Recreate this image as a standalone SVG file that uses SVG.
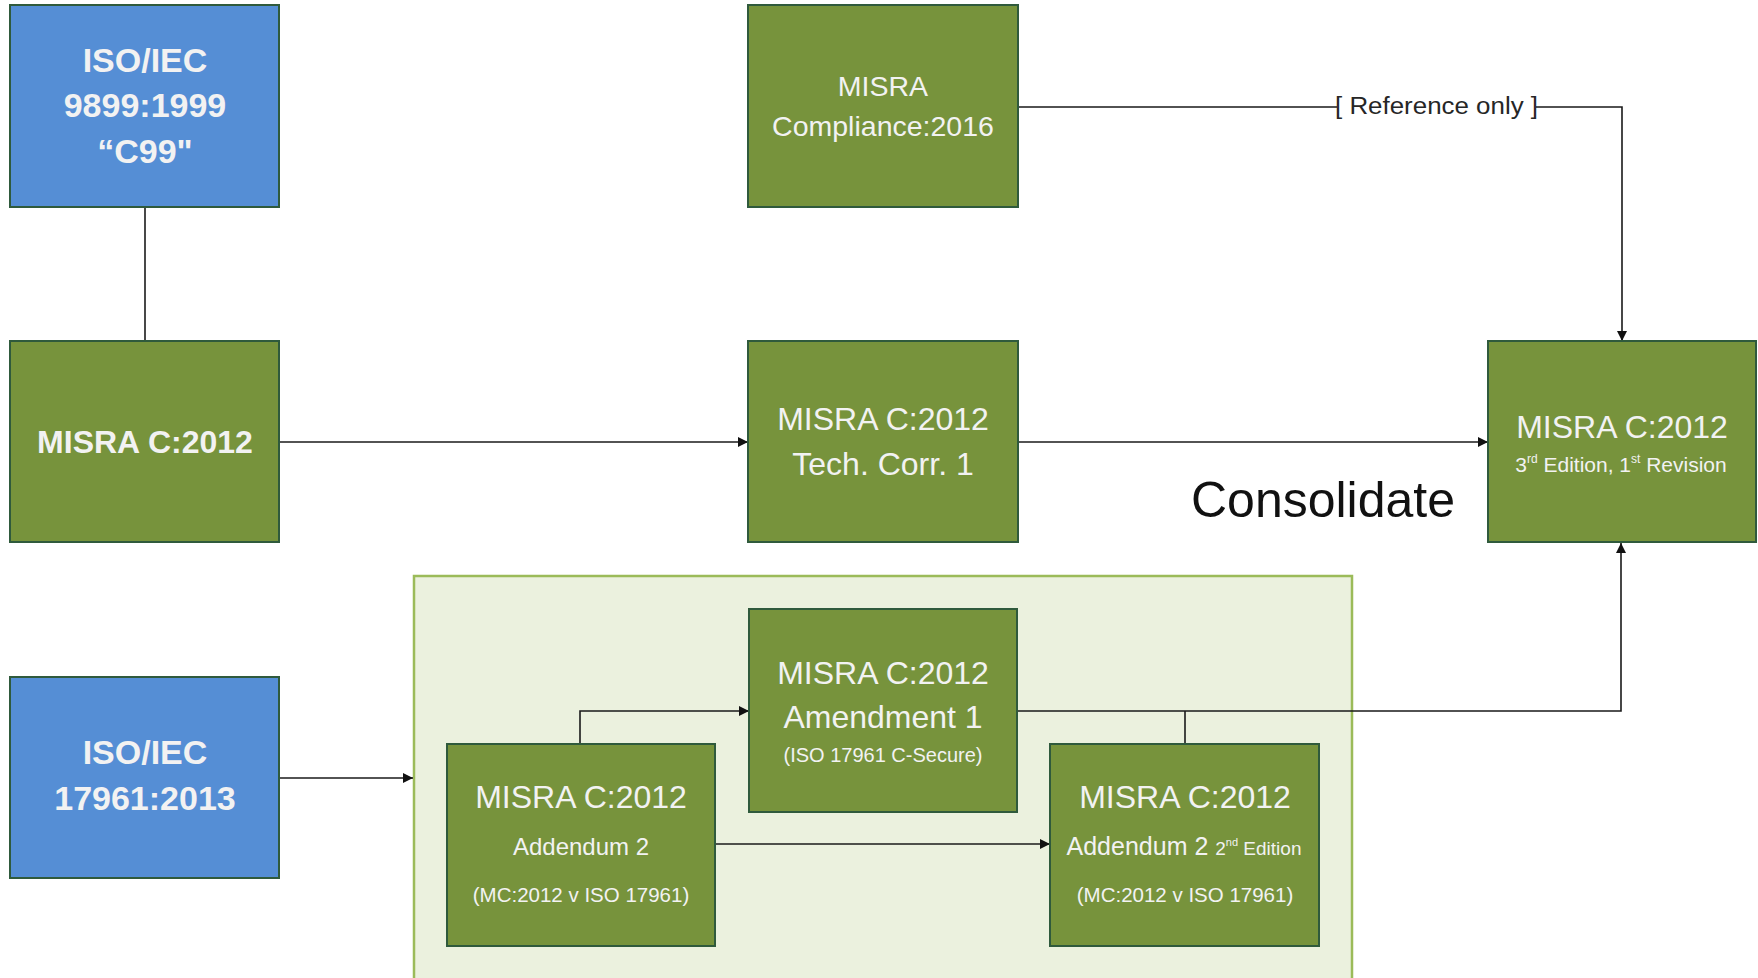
<svg xmlns="http://www.w3.org/2000/svg" width="1758" height="978" viewBox="0 0 1758 978">
<defs>
<style>
.box{stroke:#2f5a3c;stroke-width:2}
.blue{fill:#558ed5}
.green{fill:#77933c}
.t{font-family:"Liberation Sans",Arial,sans-serif;fill:#f2f2f2;text-anchor:middle}
.b{font-weight:bold}
.ln{fill:none;stroke:#1a1a1a;stroke-width:1.6}
</style>
<marker id="ah" viewBox="0 0 10 10" refX="10" refY="5" markerWidth="10" markerHeight="10" markerUnits="userSpaceOnUse" orient="auto">
<path d="M0,0 L10,5 L0,10 z" fill="#111"/>
</marker>
</defs>
<rect width="1758" height="978" fill="#ffffff"/>

<g id="container">
<rect x="414" y="576" width="938" height="410" fill="#ebf1de" stroke="#9bbb59" stroke-width="2.5"/>
</g>

<g id="connectors">
<path class="ln" d="M145,207 L145,341"/>
<path class="ln" d="M279,442 L748,442" marker-end="url(#ah)"/>
<path class="ln" d="M1018,442 L1488,442" marker-end="url(#ah)"/>
<path class="ln" d="M1018,107 L1622,107 L1622,341" marker-end="url(#ah)"/>
<path class="ln" d="M279,778 L413,778" marker-end="url(#ah)"/>
<path class="ln" d="M580,744 L580,711 L749,711" marker-end="url(#ah)"/>
<path class="ln" d="M715,844 L1050,844" marker-end="url(#ah)"/>
<path class="ln" d="M1017,711 L1621,711 L1621,543" marker-end="url(#ah)"/>
<path class="ln" d="M1185,711 L1185,744"/>
<rect x="1337" y="92" width="199" height="30" fill="#ffffff"/>
<text x="1335" y="114" font-family="'Liberation Sans',Arial,sans-serif" font-size="23" fill="#262626" textLength="203" lengthAdjust="spacingAndGlyphs">[ Reference only ]</text>
</g>

<g id="c99">
<rect class="box blue" x="10" y="5" width="269" height="202"/>
<text class="t b" font-size="34" x="145" y="72">ISO/IEC</text>
<text class="t b" font-size="34" x="145" y="117">9899:1999</text>
<text class="t b" font-size="34" x="145" y="163">“C99"</text>
</g>

<g id="misra2012">
<rect class="box green" x="10" y="341" width="269" height="201"/>
<text class="t b" font-size="32" x="145" y="453">MISRA C:2012</text>
</g>

<g id="compliance">
<rect class="box green" x="748" y="5" width="270" height="202"/>
<text class="t" font-size="28.5" x="883" y="96">MISRA</text>
<text class="t" font-size="28.5" x="883" y="136">Compliance:2016</text>
</g>

<g id="techcorr">
<rect class="box green" x="748" y="341" width="270" height="201"/>
<text class="t" font-size="32" x="883" y="430">MISRA C:2012</text>
<text class="t" font-size="32" x="883" y="475">Tech. Corr. 1</text>
</g>

<g id="final">
<rect class="box green" x="1488" y="341" width="268" height="201"/>
<text class="t" font-size="32" x="1622" y="438">MISRA C:2012</text>
<text class="t" font-size="21" x="1621" y="472">3<tspan font-size="12" dy="-9">rd</tspan><tspan dy="9"> Edition, 1</tspan><tspan font-size="12" dy="-9">st</tspan><tspan dy="9"> Revision</tspan></text>
</g>

<g id="consolidate">
<text x="1323" y="517" font-family="'Liberation Sans',Arial,sans-serif" font-size="50" fill="#111" text-anchor="middle">Consolidate</text>
</g>

<g id="iso17961">
<rect class="box blue" x="10" y="677" width="269" height="201"/>
<text class="t b" font-size="34" x="145" y="764">ISO/IEC</text>
<text class="t b" font-size="34" x="145" y="810">17961:2013</text>
</g>

<g id="amendment1">
<rect class="box green" x="749" y="609" width="268" height="203"/>
<text class="t" font-size="32" x="883" y="684">MISRA C:2012</text>
<text class="t" font-size="32" x="883" y="728">Amendment 1</text>
<text class="t" font-size="20" x="883" y="762">(ISO 17961 C-Secure)</text>
</g>

<g id="addendum2">
<rect class="box green" x="447" y="744" width="268" height="202"/>
<text class="t" font-size="32" x="581" y="808">MISRA C:2012</text>
<text class="t" font-size="24" x="581" y="855">Addendum 2</text>
<text class="t" font-size="20.5" x="581" y="902">(MC:2012 v ISO 17961)</text>
</g>

<g id="addendum2ed2">
<rect class="box green" x="1050" y="744" width="269" height="202"/>
<text class="t" font-size="32" x="1185" y="808">MISRA C:2012</text>
<text class="t" font-size="25" x="1184" y="855">Addendum 2 <tspan font-size="19">2</tspan><tspan font-size="11" dy="-9">nd</tspan><tspan font-size="19" dy="9"> Edition</tspan></text>
<text class="t" font-size="20.5" x="1185" y="902">(MC:2012 v ISO 17961)</text>
</g>
</svg>
